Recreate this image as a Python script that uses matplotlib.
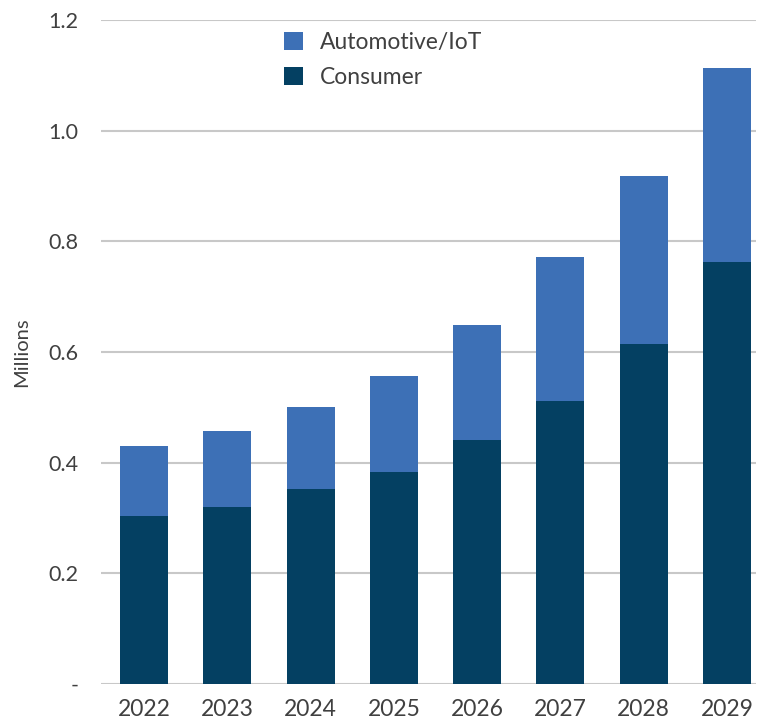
import matplotlib.pyplot as plt
import numpy as np

years = ["2022", "2023", "2024", "2025", "2026", "2027", "2028", "2029"]
consumer = [0.304, 0.320, 0.352, 0.383, 0.441, 0.511, 0.614, 0.763]
automotive_iot = [0.126, 0.137, 0.149, 0.174, 0.208, 0.261, 0.304, 0.350]

COL_CONSUMER = "#044062"
COL_AUTO = "#3d70b6"
TEXT = "#404040"

plt.rcParams["font.family"] = ["Lato", "DejaVu Sans"]

fig = plt.figure(figsize=(7.68, 7.23), dpi=100)
ax = fig.add_axes([101 / 768, 1 - 684 / 723, (756 - 101) / 768, (684 - 20) / 723])

x = np.arange(len(years))
ax.bar(x, consumer, width=0.576, color=COL_CONSUMER, label="Consumer", zorder=3)
ax.bar(x, automotive_iot, width=0.576, bottom=consumer, color=COL_AUTO,
       label="Automotive/IoT", zorder=3)

ax.set_xlim(-0.516, 7.348)
ax.set_ylim(0, 1.2)
ax.set_yticks([0, 0.2, 0.4, 0.6, 0.8, 1.0, 1.2])
ax.set_yticklabels(["-", "0.2", "0.4", "0.6", "0.8", "1.0", "1.2"])
ax.set_xticks(x)
ax.set_xticklabels(years)
ax.tick_params(axis="y", length=0, pad=16, labelsize=15.5, labelcolor=TEXT)
ax.tick_params(axis="x", length=0, pad=11, labelsize=16.5, labelcolor=TEXT)
ax.grid(axis="y", color="#c8c8c8", linewidth=1.5, zorder=0)
for s in ax.spines.values():
    s.set_visible(False)

ax.set_ylabel("Millions", fontsize=14.5, color=TEXT, labelpad=13)

handles, labels = ax.get_legend_handles_labels()
fig.legend(handles[::-1], labels[::-1], loc="upper left",
           bbox_to_anchor=(284 / 768, 1 - 32 / 723), frameon=False,
           fontsize=16.5, labelcolor=TEXT, handlelength=0.85, handleheight=0.85,
           handletextpad=0.7, labelspacing=0.6, borderpad=0, borderaxespad=0)

fig.savefig("out.png", dpi=100)
